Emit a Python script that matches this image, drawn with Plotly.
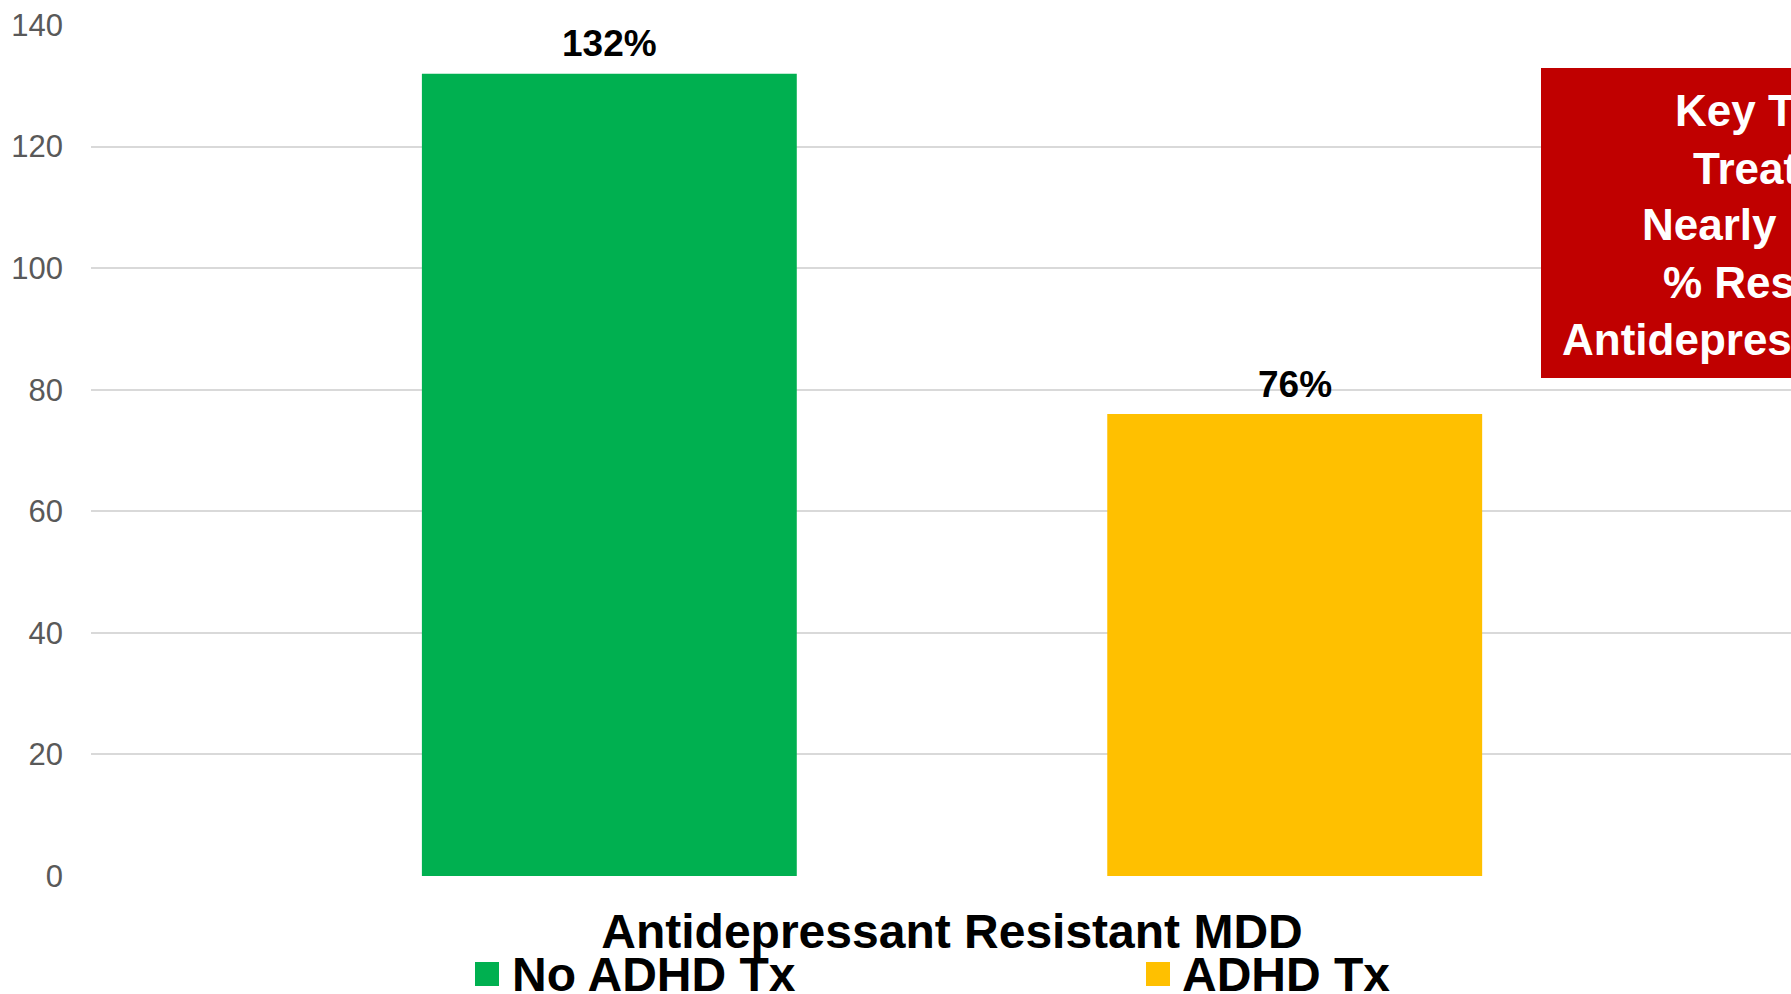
import plotly.graph_objects as go

category = ["Antidepressant Resistant MDD"]
series_names = ["No ADHD Tx", "ADHD Tx"]
series_values = [[132], [76]]
series_colors = ["#00B050", "#FFC000"]
y_ticks = [0, 20, 40, 60, 80, 100, 120, 140]
box_lines = ["Key Takeaway:", "Treatment", "Nearly Halves", "% Resistant to", "Antidepressants"]

FONT = "Arial, Liberation Sans, sans-serif"
W, H = 1791, 994
ML, MR, MT, MB = 91, 0, 25, 118
PW = W - ML - MR
PH = H - MT - MB
X_RANGE = [-0.5, 0.4872]
BARGAP = 0.204
BARGROUPGAP = 0.453

fig = go.Figure()
for name, vals, col in zip(series_names, series_values, series_colors):
    fig.add_trace(go.Bar(
        x=category, y=vals, name=name, marker=dict(color=col, line=dict(width=0)),
        showlegend=False,
    ))

def px_x(p):
    return (p - ML) / PW

def px_y(p):
    return (H - MB - p) / PH

annotations = []
# data labels, placed over each bar of the group via the axis scale
n = len(series_names)
slot = (1 - BARGAP) / n
px_per_unit = PW / (X_RANGE[1] - X_RANGE[0])
for i, vals in enumerate(series_values):
    offset = (-(1 - BARGAP) / 2 + slot * (i + 0.5)) * px_per_unit
    for cat, v in zip(category, vals):
        annotations.append(dict(
            text=f"{v}%", x=cat, y=v, xref="x", yref="y", xshift=offset, yshift=30,
            xanchor="center", yanchor="middle", showarrow=False,
            font=dict(family=FONT, size=37, color="black", weight="bold")))

# callout box
shapes = [dict(type="rect", xref="paper", yref="paper", layer="above",
               x0=px_x(1541), x1=1.3, y0=px_y(378), y1=px_y(68),
               fillcolor="#C00000", line=dict(width=0))]

line_left = [1676, 1694, 1643, 1664, 1563]
line_base = [126, 183, 240, 298, 354]
for txt, lx, by in zip(box_lines, line_left, line_base):
    annotations.append(dict(
        text=txt, xref="paper", yref="paper", x=px_x(lx - 3), y=px_y(by - 15),
        xanchor="left", yanchor="middle", showarrow=False,
        font=dict(family=FONT, size=44, color="white", weight="bold")))

# legend (drawn as keys + labels)
legend_key_left = [475, 1146]
legend_text_left = [510, 1180]
LEG_Y = 974
for name, col, kx, tx in zip(series_names, series_colors, legend_key_left, legend_text_left):
    shapes.append(dict(type="rect", xref="paper", yref="paper", layer="above",
                       x0=px_x(kx), x1=px_x(kx + 24), y0=px_y(LEG_Y + 12), y1=px_y(LEG_Y - 12),
                       fillcolor=col, line=dict(width=0)))
    annotations.append(dict(
        text=name, xref="paper", yref="paper", x=px_x(tx), y=px_y(LEG_Y),
        xanchor="left", yanchor="middle", showarrow=False,
        font=dict(family=FONT, size=48, color="black", weight="bold")))

fig.update_layout(
    width=W, height=H,
    margin=dict(l=ML, r=MR, t=MT, b=MB, autoexpand=False),
    paper_bgcolor="white", plot_bgcolor="white",
    barmode="group", bargap=BARGAP, bargroupgap=BARGROUPGAP,
    font=dict(family=FONT),
    showlegend=False,
    xaxis=dict(range=X_RANGE, showgrid=False, showline=False, zeroline=False,
               tickfont=dict(family=FONT, size=48, color="black", weight="bold"),
               ticks="", automargin=False, ticklabelstandoff=23),
    yaxis=dict(range=[0, 140], tickvals=y_ticks, showgrid=True, gridcolor="#D9D9D9",
               gridwidth=2, zeroline=False, showline=False, ticks="",
               tickfont=dict(family=FONT, size=31, color="#595959"),
               automargin=False, ticklabelstandoff=27),
    shapes=shapes, annotations=annotations,
)

fig.write_html("out.html", config={"displayModeBar": False},
               post_script="document.body.style.margin='0';document.body.style.overflow='hidden';")
